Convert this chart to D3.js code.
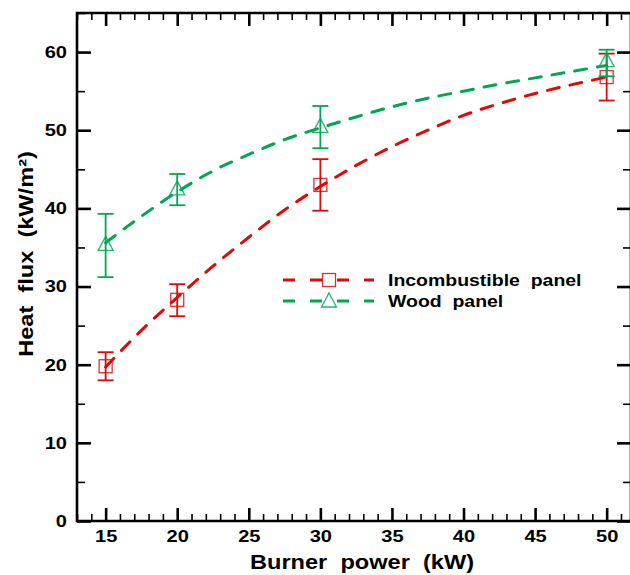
<!DOCTYPE html>
<html><head><meta charset="utf-8">
<script src="https://cdn.jsdelivr.net/npm/d3@7"></script>
<style>body{margin:0;background:#fff}svg{display:block;font-family:"Liberation Sans",Arial,sans-serif;font-weight:bold}text{white-space:pre}</style>
</head><body><svg id="c" width="630" height="575"></svg>
<script>
const powers = [15, 20, 30, 50];
const incombMean = [19.8, 28.3, 43.0, 56.8];
const incombLow = [18.0, 26.2, 39.7, 53.8];
const incombHigh = [21.6, 30.3, 46.3, 59.8];
const woodMean = [35.4, 42.5, 50.5, 58.9];
const woodLow = [31.2, 40.4, 47.7, 56.9];
const woodHigh = [39.3, 44.4, 53.1, 60.3];
const fitX = [15, 17.5, 20, 22.5, 25, 27.5, 30, 32.5, 35, 37.5, 40, 42.5, 45, 47.5, 50];
const incombFit = [19.7, 24.4, 28.6, 32.6, 36.3, 39.8, 42.8, 45.5, 47.9, 50.0, 51.9, 53.4, 54.7, 55.8, 56.8];
const woodFit = [35.6, 39.0, 42.1, 44.8, 46.9, 48.8, 50.3, 51.7, 53.0, 54.1, 55.0, 55.9, 56.7, 57.5, 58.3];
const xTicks = [15, 20, 25, 30, 35, 40, 45, 50];
const yTicks = [0, 10, 20, 30, 40, 50, 60];
const seriesNames = ["Incombustible  panel", "Wood  panel"];
const RED = "#dd0a0a", GREEN = "#00a653";
const SX = 1.18;
const FONT = '"Liberation Sans",Arial,sans-serif';

const svg = d3.select("#c");
const L = 77, R = 631, T = 13, B = 521;
const x = d3.scaleLinear().domain([13, 51.7]).range([L, R]);
const y = d3.scaleLinear().domain([0, 65]).range([B, T]);

const minorX = d3.range(13, 52, 1).filter(v => !xTicks.includes(v));
const minorY = d3.range(0, 66, 5).filter(v => !yTicks.includes(v));
const g = svg.append("g");

function ax(axisGen, tr, ticks, size) {
  const a = g.append("g").attr("transform", tr)
    .call(axisGen.tickValues(ticks).tickSize(size).tickSizeOuter(0).tickFormat(""));
  a.select(".domain").remove();
  a.selectAll("line").attr("stroke", "#000").attr("stroke-width", size > 9 ? 2.6 : 1.6);
  return a;
}
function styleLabels(a) {
  a.select(".domain").remove();
  a.selectAll("text").attr("font-size", 17).attr("font-weight", "bold").attr("fill", "#000")
    .attr("font-family", FONT).attr("transform", `scale(${SX},1)`);
}
// bottom
ax(d3.axisTop(x), `translate(0,${B})`, xTicks, 13);
ax(d3.axisTop(x), `translate(0,${B})`, minorX, 7);
const bl = g.append("g").attr("transform", `translate(0,${B})`)
  .call(d3.axisBottom(x).tickValues(xTicks).tickSize(0).tickPadding(9).tickFormat(d3.format("d")));
styleLabels(bl);
// top
ax(d3.axisBottom(x), `translate(0,${T})`, xTicks, 13);
ax(d3.axisBottom(x), `translate(0,${T})`, minorX, 7);
// left
ax(d3.axisRight(y), `translate(${L},0)`, yTicks, 14);
ax(d3.axisRight(y), `translate(${L},0)`, minorY, 8);
const ll = g.append("g").attr("transform", `translate(${L},0)`)
  .call(d3.axisLeft(y).tickValues(yTicks).tickSize(0).tickPadding(8.5).tickFormat(d3.format("d")));
styleLabels(ll);
// right
ax(d3.axisLeft(y), `translate(${R},0)`, yTicks, 14);
ax(d3.axisLeft(y), `translate(${R},0)`, minorY, 8);

// frame
g.append("path").attr("d", `M${L},${B}H${R}M${L},${T}H${R}M${L},${T - 1.3}V${B + 1.3}M${R},${T}V${B}`)
  .attr("stroke", "#000").attr("stroke-width", 2.6).attr("fill", "none");

// fit curves
const line = d3.line().x(d => x(d[0])).y(d => y(d[1])).curve(d3.curveMonotoneX);
const fits = [[incombFit, RED], [woodFit, GREEN]];
fits.forEach(([vals, col]) => {
  g.append("path").datum(fitX.map((v, i) => [v, vals[i]])).attr("d", line)
    .attr("fill", "none").attr("stroke", col).attr("stroke-width", 3)
    .attr("stroke-dasharray", "12,11").attr("stroke-linecap", "round");
});

// error bars + markers
function errs(mean, lo, hi, col, shape) {
  const eg = g.append("g");
  powers.forEach((p, i) => {
    const cx = x(p);
    eg.append("line").attr("x1", cx).attr("x2", cx).attr("y1", y(lo[i])).attr("y2", y(hi[i]))
      .attr("stroke", col).attr("stroke-width", 1.8);
    [lo[i], hi[i]].forEach(v => eg.append("line").attr("x1", cx - 8).attr("x2", cx + 8)
      .attr("y1", y(v)).attr("y2", y(v)).attr("stroke", col).attr("stroke-width", 1.8));
    marker(eg, cx, y(mean[i]), col, shape);
  });
}
function marker(sel, cx, cy, col, shape) {
  if (shape === "square") {
    sel.append("rect").attr("x", cx - 6.5).attr("y", cy - 6.5).attr("width", 13).attr("height", 13)
      .attr("fill", "none").attr("stroke", col).attr("stroke-width", 1.3).attr("stroke-opacity", 0.85);
  } else {
    sel.append("path").attr("d", `M${cx},${cy - 8}L${cx + 7.5},${cy + 6}L${cx - 7.5},${cy + 6}Z`)
      .attr("fill", "none").attr("stroke", col).attr("stroke-width", 1.3).attr("stroke-opacity", 0.85);
  }
}
errs(incombMean, incombLow, incombHigh, RED, "square");
errs(woodMean, woodLow, woodHigh, GREEN, "triangle");

// legend
const leg = [[RED, "square", 280], [GREEN, "triangle", 301]];
leg.forEach(([col, shape, ly], i) => {
  const lg = svg.append("g");
  lg.append("line").attr("x1", 283).attr("x2", 374).attr("y1", ly).attr("y2", ly)
    .attr("stroke", col).attr("stroke-width", 3).attr("stroke-dasharray", "12,15");
  marker(lg, 329, ly, col, shape);
  lg.append("text").attr("transform", `translate(388,${ly + 6}) scale(${SX},1)`)
    .attr("font-size", 16.5).attr("fill", "#000").text(seriesNames[i]);
});

// axis titles
svg.append("text").attr("transform", `translate(362,569) scale(${SX},1)`).attr("text-anchor", "middle")
  .attr("font-size", 20).attr("fill", "#000").text("Burner  power  (kW)");
svg.append("text").attr("transform", `translate(33,254) rotate(-90) scale(${SX},1)`).attr("text-anchor", "middle")
  .attr("font-size", 20).attr("fill", "#000").text("Heat  flux  (kW/m²)");
</script></body></html>
